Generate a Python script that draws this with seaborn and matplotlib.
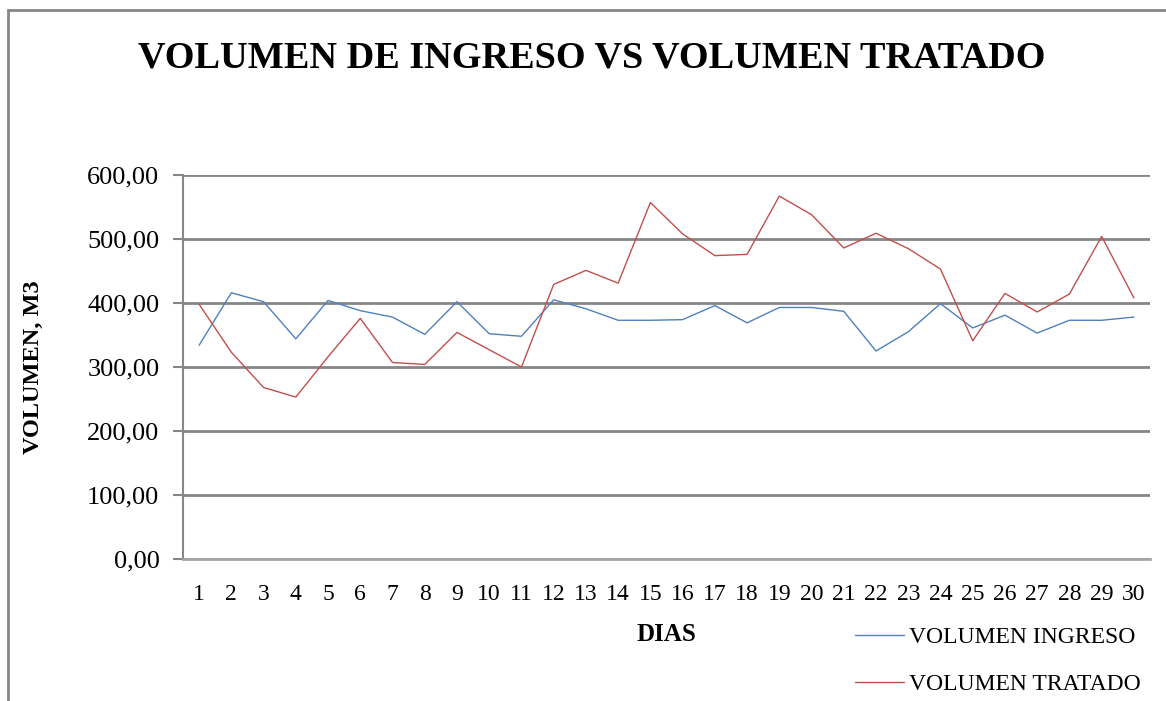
import pandas as pd
import matplotlib.pyplot as plt
import seaborn as sns
from matplotlib.patches import Rectangle
from matplotlib.ticker import FuncFormatter

dias = list(range(1, 31))
volumen_ingreso = [334, 416, 402, 344, 404, 388, 378, 351, 402, 352,
                   348, 405, 391, 373, 373, 374, 396, 369, 393, 393,
                   387, 325, 355, 399, 361, 381, 353, 373, 373, 378]
volumen_tratado = [398, 323, 268, 253, 316, 376, 307, 304, 354, 327,
                   300, 429, 451, 431, 557, 508, 474, 476, 567, 538,
                   486, 509, 485, 453, 341, 415, 386, 414, 504, 408]
series = ["VOLUMEN INGRESO", "VOLUMEN TRATADO"]
colores = ["#4F81BD", "#C0504D"]

df = pd.DataFrame({
    "dia": dias * 2,
    "volumen": volumen_ingreso + volumen_tratado,
    "serie": [series[0]] * 30 + [series[1]] * 30,
})

sns.set_style("white")
plt.rcParams["font.family"] = ["Liberation Serif", "DejaVu Serif"]
plt.rcParams["text.color"] = "black"
plt.rcParams["axes.labelcolor"] = "black"
plt.rcParams["xtick.color"] = "black"
plt.rcParams["ytick.color"] = "black"

W, H = 1166, 701
fig = plt.figure(figsize=(W / 100, H / 100), dpi=100)
ax = fig.add_axes([183 / W, 1 - 559 / H, (1150 - 183) / W, (559 - 175) / H])

sns.lineplot(data=df, x="dia", y="volumen", hue="serie", palette=colores,
             linewidth=1.0, ax=ax, legend=False)

ax.set_xlim(0.5, 30.5)
ax.set_ylim(0, 600)
ax.set_xticks(dias)
ax.set_xticklabels([str(d) for d in dias], fontsize=17)
ax.set_yticks(range(0, 601, 100))
ax.yaxis.set_major_formatter(FuncFormatter(lambda v, p: f"{v:.2f}".replace(".", ",")))
ax.tick_params(axis="y", labelsize=19, length=7, width=1.5, color="#868686",
               pad=10, direction="out", left=True, labelcolor="black")
ax.tick_params(axis="x", length=0, pad=18, labelcolor="black")
ax.grid(axis="y", color="#868686", linewidth=2)
ax.set_axisbelow(True)
for s in ["top", "right"]:
    ax.spines[s].set_visible(False)
ax.spines["left"].set_color("#868686")
ax.spines["left"].set_linewidth(1.5)
ax.spines["bottom"].set_color("#a6a6a6")
ax.spines["bottom"].set_linewidth(2)

ax.set_xlabel("DIAS", fontsize=18, fontweight="bold", labelpad=13)
ax.set_ylabel("VOLUMEN, M3", fontsize=17.5, fontweight="bold", va="center")
ax.yaxis.set_label_coords((33 - 183) / (1150 - 183), 0.5)

fig.text(592 / W, 1 - 58 / H, "VOLUMEN DE INGRESO VS VOLUMEN TRATADO",
         ha="center", va="center", fontsize=27.5, fontweight="bold")

handles = [plt.Line2D([], [], color=c, linewidth=1.0) for c in colores]
fig.legend(handles, series, loc="upper left", bbox_to_anchor=(843 / W, 1 - 615 / H),
           frameon=False, fontsize=17, handlelength=2.1, handletextpad=0.2,
           labelspacing=1.06, borderpad=0)

fig.patches.append(Rectangle((8 / W, -0.1), 1.2, (H - 10) / H + 0.1,
                             transform=fig.transFigure, fill=False,
                             edgecolor="#868686", linewidth=2))

fig.savefig("out.png", dpi=100)
